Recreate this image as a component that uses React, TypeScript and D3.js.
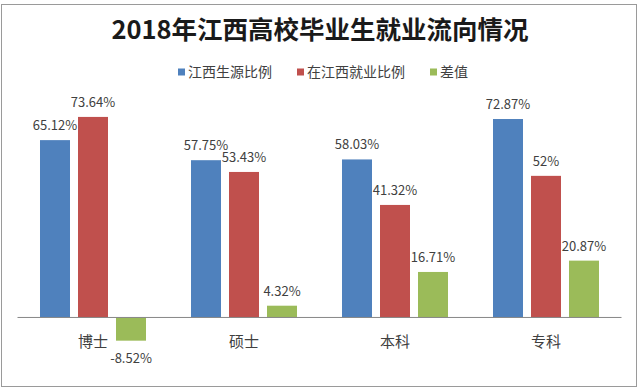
import React from "react";
import * as d3 from "d3";

const categories = ["博士", "硕士", "本科", "专科"];
const seriesNames = ["江西生源比例", "在江西就业比例", "差值"];
const sourceRatio = [65.12, 57.75, 58.03, 72.87];
const employRatio = [73.64, 53.43, 41.32, 52];
const diffValues = [-8.52, 4.32, 16.71, 20.87];
const valueLabels = [
  ["65.12%", "57.75%", "58.03%", "72.87%"],
  ["73.64%", "53.43%", "41.32%", "52%"],
  ["-8.52%", "4.32%", "16.71%", "20.87%"],
];
const colors = ["#4F81BD", "#C0504D", "#9BBB59"];
const title = "2018年江西高校毕业生就业流向情况";

const W = 640;
const H = 390;
const font = "'Noto Sans CJK SC', 'Noto Sans', sans-serif";

export default function App() {
  const series = [sourceRatio, employRatio, diffValues];
  const x0 = d3.scaleBand<string>().domain(categories).range([17.5, 621.5]).padding(0);
  const x1 = d3
    .scaleBand<string>()
    .domain(seriesNames)
    .range([0, x0.bandwidth()])
    .paddingInner(8 / 38)
    .paddingOuter(0.592);
  const y = d3.scaleLinear().domain([-10, 80]).range([344.7, 99.6]);

  const legendX = [178, 297, 430];

  return (
    <svg
      width={W}
      height={H}
      style={{ position: "absolute", left: 0, top: 0, background: "#fff" }}
      fontFamily={font}
    >
      <rect x={0} y={0} width={W} height={H} fill="#fff" />
      <rect x={1.5} y={4.5} width={635} height={382} fill="none" stroke="#9a9a9a" strokeWidth={1} />
      <text
        x={320}
        y={39}
        textAnchor="middle"
        fontSize={25.5}
        fontWeight="bold"
        fill="#1a1a1a"
      >
        {title}
      </text>
      {seriesNames.map((s, i) => (
        <g key={s}>
          <rect x={legendX[i]} y={68.5} width={7} height={7} fill={colors[i]} />
          <text x={legendX[i] + 10} y={77} fontSize={14} fill="#404040">
            {s}
          </text>
        </g>
      ))}
      {categories.map((c, ci) => (
        <g key={c} transform={`translate(${x0(c)},0)`}>
          {seriesNames.map((s, si) => {
            const v = series[si][ci];
            const top = y(Math.max(0, v));
            const bot = y(Math.min(0, v));
            const cx = (x1(s) as number) + x1.bandwidth() / 2;
            return (
              <g key={s}>
                <rect x={x1(s)} y={top} width={x1.bandwidth()} height={bot - top} fill={colors[si]} />
                <text
                  x={cx}
                  y={v >= 0 ? top - 10 : bot + 22}
                  textAnchor="middle"
                  fontSize={13}
                  fill="#404040"
                >
                  {valueLabels[si][ci]}
                </text>
              </g>
            );
          })}
        </g>
      ))}
      <line x1={17.5} x2={621.5} y1={y(0)} y2={y(0)} stroke="#868686" strokeWidth={1} />
      {categories.map((c) => (
        <text
          key={c}
          x={(x0(c) as number) + x0.bandwidth() / 2}
          y={347}
          textAnchor="middle"
          fontSize={15}
          fill="#404040"
        >
          {c}
        </text>
      ))}
    </svg>
  );
}
